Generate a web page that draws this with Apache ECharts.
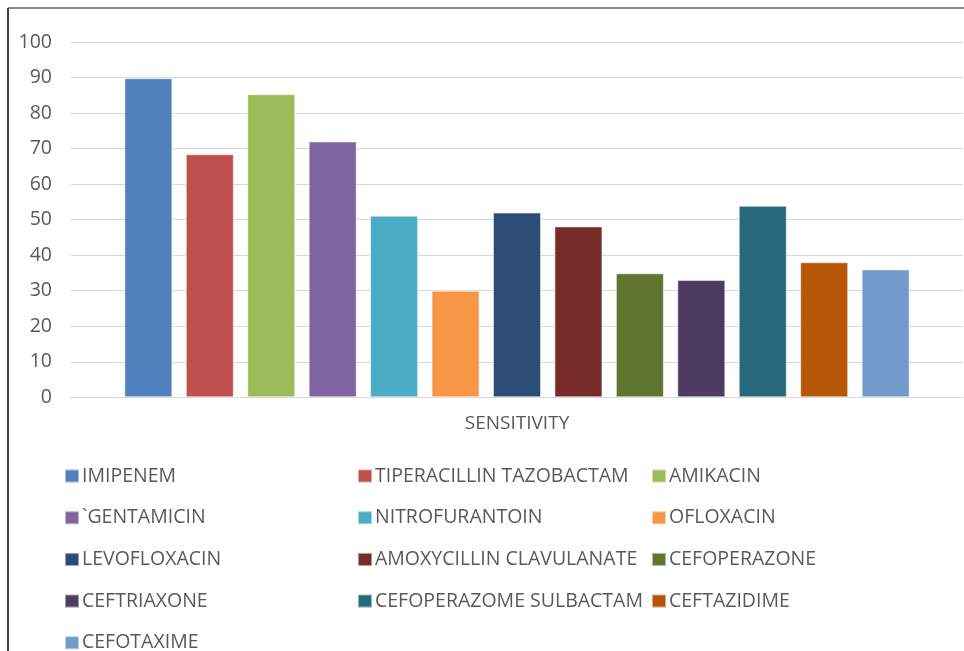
<!DOCTYPE html>
<html>
<head>
<meta charset="utf-8">
<script src="https://cdn.jsdelivr.net/npm/echarts@6/dist/echarts.min.js"></script>
<style>
  html, body { margin: 0; padding: 0; background: #ffffff; }
  #chart { width: 964px; height: 651px; }
</style>
</head>
<body>
<div id="chart"></div>
<script>
// Antibiotic sensitivity (%), one bar per drug
const categories = ['SENSITIVITY'];
const drugs = [
  'IMIPENEM', 'TIPERACILLIN TAZOBACTAM', 'AMIKACIN',
  '`GENTAMICIN', 'NITROFURANTOIN', 'OFLOXACIN',
  'LEVOFLOXACIN', 'AMOXYCILLIN CLAVULANATE', 'CEFOPERAZONE',
  'CEFTRIAXONE', 'CEFOPERAZOME SULBACTAM', 'CEFTAZIDIME',
  'CEFOTAXIME'
];
const sensitivity = [89.8, 68.4, 85.3, 72, 51.1, 30, 52, 48.1, 34.9, 33, 53.9, 38, 36];
const yTicks = [0, 10, 20, 30, 40, 50, 60, 70, 80, 90, 100];

const colors = [
  '#4F81BD', '#C0504D', '#9BBB59', '#8064A2', '#4BACC6', '#F79646',
  '#2C4D75', '#772C2A', '#5F7530', '#4D3B62', '#276A7C', '#B65708', '#729ACA'
];

const FONT = '"Open Sans", "Liberation Sans", sans-serif';
const TEXT = '#595959';

const chart = echarts.init(document.getElementById('chart'), null, { renderer: 'canvas' });

// legend: three columns filled row by row; the 13th entry sits alone on a fifth row
const colLeft = [64, 357, 651];
const ROW_TOP = 466;
const ROW_STEP = 41.7;
const legendBlocks = [];
for (let c = 0; c < 3; c++) {
  const names = drugs.slice(0, 12).filter((d, i) => i % 3 === c);
  legendBlocks.push({ names: names, left: colLeft[c], top: ROW_TOP });
}
legendBlocks.push({ names: drugs.slice(12), left: colLeft[0], top: ROW_TOP + 4 * ROW_STEP });

const legends = legendBlocks.map(b => ({
  data: b.names,
  orient: 'vertical',
  left: b.left,
  top: b.top,
  itemWidth: 14,
  itemHeight: 13,
  itemGap: 21.7,
  icon: 'rect',
  selectedMode: false,
  textStyle: { fontFamily: FONT, fontSize: 19.5, color: TEXT, padding: [0, 0, 0, -2] },
  padding: 0
}));

chart.setOption({
  animation: false,
  color: colors,
  graphic: [
    { type: 'line', shape: { x1: 8, y1: 8, x2: 964, y2: 8 }, style: { stroke: '#8a8a8a', lineWidth: 2 } },
    { type: 'line', shape: { x1: 8, y1: 8, x2: 8, y2: 651 }, style: { stroke: '#404040', lineWidth: 2 } }
  ],
  legend: legends,
  grid: { left: 71, right: 1, top: 42, bottom: 253.7, containLabel: false },
  xAxis: {
    type: 'category',
    data: categories,
    axisLine: { show: true, lineStyle: { color: '#d9d9d9', width: 1 } },
    axisTick: { show: false },
    axisLabel: { fontFamily: FONT, fontSize: 19, color: TEXT, margin: 17 }
  },
  yAxis: {
    type: 'value',
    min: yTicks[0],
    max: yTicks[yTicks.length - 1],
    interval: 10,
    axisLine: { show: false },
    axisTick: { show: false },
    splitLine: { lineStyle: { color: '#d9d9d9', width: 1 } },
    axisLabel: { fontFamily: FONT, fontSize: 19.5, color: TEXT, margin: 19 }
  },
  series: drugs.map((name, i) => ({
    name: name,
    type: 'bar',
    data: [sensitivity[i]],
    barWidth: 48,
    barGap: '28%',
    itemStyle: { color: colors[i], borderColor: 'rgba(255,255,255,0.5)', borderWidth: 1 }
  }))
});
</script>
</body>
</html>
